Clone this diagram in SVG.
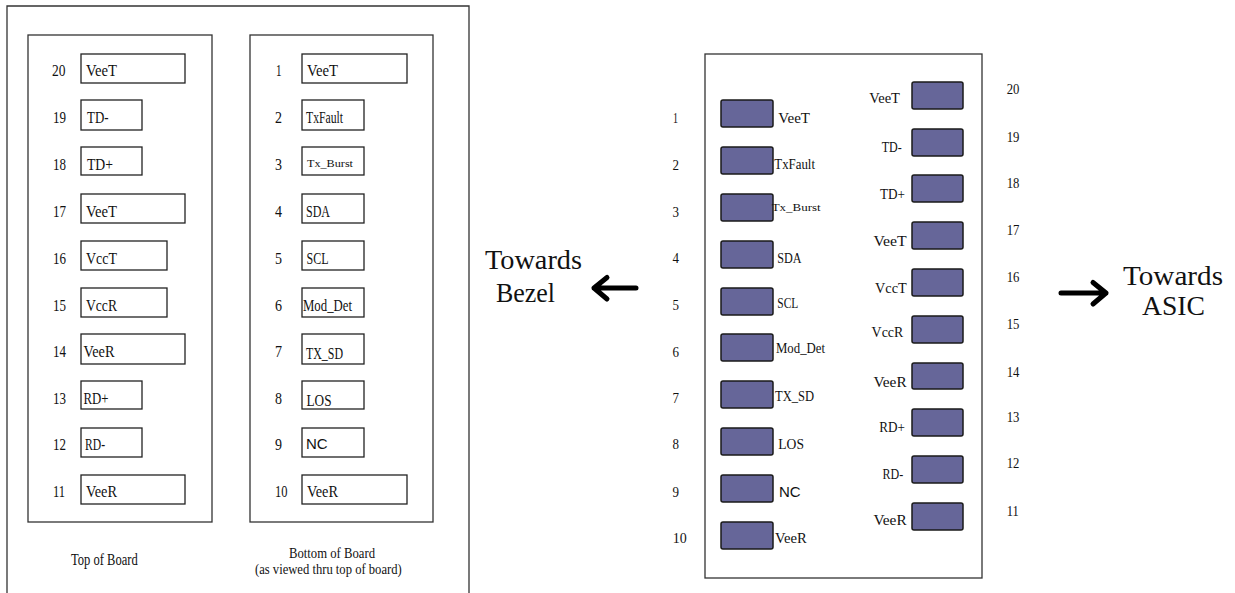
<svg xmlns="http://www.w3.org/2000/svg" width="1235" height="593" viewBox="0 0 1235 593">
<style>
text{font-family:"Liberation Serif","Times New Roman",serif;fill:#111}
.frame{fill:none;stroke:#333;stroke-width:1.3}
.pin{fill:#fff;stroke:#222;stroke-width:1.3}
.pad{fill:#666699;stroke:#1a1a1a;stroke-width:1.5}
.s{font-size:16px}
.cap{font-size:14px}
.m{font-size:15px}
.tiny{font-size:10px}
.sans{font-family:"Liberation Sans",Arial,sans-serif}
.big{font-size:28px}
.r{text-anchor:end}
.c{text-anchor:middle}
.arr{fill:none;stroke:#000;stroke-width:5;stroke-linecap:round;stroke-linejoin:round}
</style>
<rect width="1235" height="593" fill="#fff"/>

<!-- Left document -->
<g id="left-sheet">
<path class="frame" d="M7,600 V6 H469 V600"/>
<rect id="top-board" class="frame" x="28" y="35" width="184" height="487"/>
<rect id="bottom-board" class="frame" x="250" y="35" width="183" height="487"/>
</g>

<g id="top-pin20"><rect class="pin" x="81" y="54" width="104" height="29"/><text class="s" x="52" y="76" textLength="13.5" lengthAdjust="spacingAndGlyphs">20</text><text class="s" x="86" y="76" textLength="31" lengthAdjust="spacingAndGlyphs">VeeT</text></g>
<g id="top-pin19"><rect class="pin" x="81" y="100" width="61" height="30"/><text class="s" x="53" y="123" textLength="13" lengthAdjust="spacingAndGlyphs">19</text><text class="s" x="87" y="123" textLength="21.5" lengthAdjust="spacingAndGlyphs">TD-</text></g>
<g id="top-pin18"><rect class="pin" x="81" y="147" width="61" height="28"/><text class="s" x="53" y="170" textLength="13" lengthAdjust="spacingAndGlyphs">18</text><text class="s" x="87" y="170" textLength="26" lengthAdjust="spacingAndGlyphs">TD+</text></g>
<g id="top-pin17"><rect class="pin" x="81" y="194" width="104" height="29"/><text class="s" x="53" y="217" textLength="13" lengthAdjust="spacingAndGlyphs">17</text><text class="s" x="86" y="217" textLength="31" lengthAdjust="spacingAndGlyphs">VeeT</text></g>
<g id="top-pin16"><rect class="pin" x="81" y="241" width="86" height="29"/><text class="s" x="53" y="264" textLength="13" lengthAdjust="spacingAndGlyphs">16</text><text class="s" x="86" y="264" textLength="31" lengthAdjust="spacingAndGlyphs">VccT</text></g>
<g id="top-pin15"><rect class="pin" x="81" y="288" width="86" height="29"/><text class="s" x="53" y="310.5" textLength="13" lengthAdjust="spacingAndGlyphs">15</text><text class="s" x="86" y="310.5" textLength="31" lengthAdjust="spacingAndGlyphs">VccR</text></g>
<g id="top-pin14"><rect class="pin" x="81" y="334" width="104" height="30"/><text class="s" x="53" y="357" textLength="13" lengthAdjust="spacingAndGlyphs">14</text><text class="s" x="83.5" y="357" textLength="31" lengthAdjust="spacingAndGlyphs">VeeR</text></g>
<g id="top-pin13"><rect class="pin" x="81" y="381" width="61" height="28"/><text class="s" x="53" y="404" textLength="13" lengthAdjust="spacingAndGlyphs">13</text><text class="s" x="83.5" y="404" textLength="25" lengthAdjust="spacingAndGlyphs">RD+</text></g>
<g id="top-pin12"><rect class="pin" x="81" y="428" width="61" height="29"/><text class="s" x="53" y="450" textLength="13" lengthAdjust="spacingAndGlyphs">12</text><text class="s" x="85" y="450" textLength="20" lengthAdjust="spacingAndGlyphs">RD-</text></g>
<g id="top-pin11"><rect class="pin" x="81" y="475" width="104" height="29"/><text class="s" x="53" y="497" textLength="12" lengthAdjust="spacingAndGlyphs">11</text><text class="s" x="86" y="497" textLength="31" lengthAdjust="spacingAndGlyphs">VeeR</text></g>

<g id="bot-pin1"><rect class="pin" x="302" y="54" width="105" height="29"/><text class="s" x="276" y="76" textLength="5.5" lengthAdjust="spacingAndGlyphs">1</text><text class="s" x="307" y="76" textLength="31" lengthAdjust="spacingAndGlyphs">VeeT</text></g>
<g id="bot-pin2"><rect class="pin" x="302" y="100" width="62" height="30"/><text class="s" x="275" y="123" textLength="7" lengthAdjust="spacingAndGlyphs">2</text><text class="s" x="306" y="123" textLength="37" lengthAdjust="spacingAndGlyphs">TxFault</text></g>
<g id="bot-pin3"><rect class="pin" x="302" y="147" width="62" height="28"/><text class="s" x="275" y="170" textLength="7" lengthAdjust="spacingAndGlyphs">3</text><text class="tiny" x="307" y="167" textLength="46" lengthAdjust="spacingAndGlyphs">Tx_Burst</text></g>
<g id="bot-pin4"><rect class="pin" x="302" y="194" width="62" height="29"/><text class="s" x="275" y="217" textLength="7" lengthAdjust="spacingAndGlyphs">4</text><text class="s" x="306" y="217" textLength="24" lengthAdjust="spacingAndGlyphs">SDA</text></g>
<g id="bot-pin5"><rect class="pin" x="302" y="241" width="62" height="29"/><text class="s" x="275" y="264" textLength="7" lengthAdjust="spacingAndGlyphs">5</text><text class="s" x="306.5" y="263.5" textLength="22" lengthAdjust="spacingAndGlyphs">SCL</text></g>
<g id="bot-pin6"><rect class="pin" x="302" y="288" width="62" height="29"/><text class="s" x="275" y="310.5" textLength="7" lengthAdjust="spacingAndGlyphs">6</text><text class="s" x="303" y="310.5" textLength="49" lengthAdjust="spacingAndGlyphs">Mod_Det</text></g>
<g id="bot-pin7"><rect class="pin" x="302" y="334" width="62" height="30"/><text class="s" x="275" y="356.5" textLength="7" lengthAdjust="spacingAndGlyphs">7</text><text class="s" x="306" y="358.5" textLength="37" lengthAdjust="spacingAndGlyphs">TX_SD</text></g>
<g id="bot-pin8"><rect class="pin" x="302" y="381" width="62" height="28"/><text class="s" x="275" y="404" textLength="7" lengthAdjust="spacingAndGlyphs">8</text><text class="s" x="306.5" y="406" textLength="25" lengthAdjust="spacingAndGlyphs">LOS</text></g>
<g id="bot-pin9"><rect class="pin" x="302" y="428" width="62" height="29"/><text class="s" x="275" y="450" textLength="7" lengthAdjust="spacingAndGlyphs">9</text><text class="m sans" x="306" y="448.5" textLength="21.7" lengthAdjust="spacingAndGlyphs">NC</text></g>
<g id="bot-pin10"><rect class="pin" x="302" y="475" width="105" height="29"/><text class="s" x="275" y="497" textLength="12.5" lengthAdjust="spacingAndGlyphs">10</text><text class="s" x="307" y="497" textLength="31" lengthAdjust="spacingAndGlyphs">VeeR</text></g>

<g id="captions">
<text class="s" x="71" y="565" textLength="66.7" lengthAdjust="spacingAndGlyphs">Top of Board</text>
<text class="cap" x="289" y="558" textLength="86" lengthAdjust="spacingAndGlyphs">Bottom of Board</text>
<text class="cap" x="255" y="574" textLength="146.7" lengthAdjust="spacingAndGlyphs">(as viewed thru top of board)</text>
</g>

<!-- Direction labels -->
<g id="bezel-label">
<text class="big" x="485" y="269" textLength="97" lengthAdjust="spacingAndGlyphs">Towards</text>
<text class="big" x="496" y="302" textLength="59" lengthAdjust="spacingAndGlyphs">Bezel</text>
</g>
<g id="asic-label">
<text class="big" x="1123" y="285" textLength="100" lengthAdjust="spacingAndGlyphs">Towards</text>
<text class="big" x="1142" y="315" textLength="63" lengthAdjust="spacingAndGlyphs">ASIC</text>
</g>

<g id="connectors">
<path class="arr" d="M636,288 H594 M607,277.5 L594,288 L607,299"/>
<path class="arr" d="M1061,293 H1106 M1093,282.5 L1106,293 L1093,304"/>
</g>

<!-- Right connector view -->
<g id="module">
<rect class="frame" x="705" y="54" width="277" height="524"/>
</g>

<g id="pad1"><rect class="pad" x="721" y="100" width="52" height="27" rx="2"/><text class="m" x="673" y="123" textLength="5" lengthAdjust="spacingAndGlyphs">1</text><text class="m" x="778.3" y="123" textLength="31.7" lengthAdjust="spacingAndGlyphs">VeeT</text></g>
<g id="pad2"><rect class="pad" x="721" y="147" width="52" height="27" rx="2"/><text class="m" x="672.5" y="170" textLength="6.5" lengthAdjust="spacingAndGlyphs">2</text><text class="m" x="774.3" y="169" textLength="40.7" lengthAdjust="spacingAndGlyphs">TxFault</text></g>
<g id="pad3"><rect class="pad" x="721" y="194" width="52" height="27" rx="2"/><text class="m" x="672.5" y="217" textLength="6.5" lengthAdjust="spacingAndGlyphs">3</text><text class="tiny" x="771.7" y="210.5" textLength="49" lengthAdjust="spacingAndGlyphs">Tx_Burst</text></g>
<g id="pad4"><rect class="pad" x="721" y="241" width="52" height="27" rx="2"/><text class="m" x="672.5" y="263" textLength="6.5" lengthAdjust="spacingAndGlyphs">4</text><text class="m" x="777.3" y="263" textLength="24.3" lengthAdjust="spacingAndGlyphs">SDA</text></g>
<g id="pad5"><rect class="pad" x="721" y="288" width="52" height="27" rx="2"/><text class="m" x="672.5" y="310" textLength="6.5" lengthAdjust="spacingAndGlyphs">5</text><text class="m" x="777.3" y="308" textLength="21" lengthAdjust="spacingAndGlyphs">SCL</text></g>
<g id="pad6"><rect class="pad" x="721" y="334" width="52" height="27" rx="2"/><text class="m" x="672.5" y="357" textLength="6.5" lengthAdjust="spacingAndGlyphs">6</text><text class="m" x="776" y="353" textLength="49" lengthAdjust="spacingAndGlyphs">Mod_Det</text></g>
<g id="pad7"><rect class="pad" x="721" y="381" width="52" height="27" rx="2"/><text class="m" x="672.5" y="403" textLength="6.5" lengthAdjust="spacingAndGlyphs">7</text><text class="m" x="775" y="401" textLength="39" lengthAdjust="spacingAndGlyphs">TX_SD</text></g>
<g id="pad8"><rect class="pad" x="721" y="428" width="52" height="27" rx="2"/><text class="m" x="672.5" y="449" textLength="6.5" lengthAdjust="spacingAndGlyphs">8</text><text class="m" x="778.3" y="449" textLength="25.7" lengthAdjust="spacingAndGlyphs">LOS</text></g>
<g id="pad9"><rect class="pad" x="721" y="475" width="52" height="27" rx="2"/><text class="m" x="672.5" y="497" textLength="6.5" lengthAdjust="spacingAndGlyphs">9</text><text class="m sans" x="779" y="497" textLength="21.7" lengthAdjust="spacingAndGlyphs">NC</text></g>
<g id="pad10"><rect class="pad" x="721" y="522" width="52" height="27" rx="2"/><text class="m" x="672.7" y="543" textLength="14" lengthAdjust="spacingAndGlyphs">10</text><text class="m" x="775" y="543" textLength="31.7" lengthAdjust="spacingAndGlyphs">VeeR</text></g>

<g id="pad20"><rect class="pad" x="912" y="82" width="51" height="27" rx="2"/><text class="m" x="1006.7" y="94" textLength="12.7" lengthAdjust="spacingAndGlyphs">20</text><text class="m r" x="900" y="103" textLength="30.7" lengthAdjust="spacingAndGlyphs">VeeT</text></g>
<g id="pad19"><rect class="pad" x="912" y="129" width="51" height="27" rx="2"/><text class="m" x="1006.7" y="142" textLength="12.7" lengthAdjust="spacingAndGlyphs">19</text><text class="m r" x="901.7" y="152" textLength="20" lengthAdjust="spacingAndGlyphs">TD-</text></g>
<g id="pad18"><rect class="pad" x="912" y="175" width="51" height="27" rx="2"/><text class="m" x="1006.7" y="188" textLength="12.7" lengthAdjust="spacingAndGlyphs">18</text><text class="m r" x="905" y="199" textLength="25" lengthAdjust="spacingAndGlyphs">TD+</text></g>
<g id="pad17"><rect class="pad" x="912" y="222" width="51" height="27" rx="2"/><text class="m" x="1006.7" y="235" textLength="12.7" lengthAdjust="spacingAndGlyphs">17</text><text class="m r" x="906.7" y="246" textLength="33.3" lengthAdjust="spacingAndGlyphs">VeeT</text></g>
<g id="pad16"><rect class="pad" x="912" y="269" width="51" height="27" rx="2"/><text class="m" x="1006.7" y="282" textLength="12.7" lengthAdjust="spacingAndGlyphs">16</text><text class="m r" x="906.7" y="293" textLength="31.7" lengthAdjust="spacingAndGlyphs">VccT</text></g>
<g id="pad15"><rect class="pad" x="912" y="316" width="51" height="27" rx="2"/><text class="m" x="1006.7" y="329" textLength="12.7" lengthAdjust="spacingAndGlyphs">15</text><text class="m r" x="903.3" y="337" textLength="31.7" lengthAdjust="spacingAndGlyphs">VccR</text></g>
<g id="pad14"><rect class="pad" x="912" y="363" width="51" height="26" rx="2"/><text class="m" x="1006.7" y="377" textLength="12.7" lengthAdjust="spacingAndGlyphs">14</text><text class="m r" x="906.7" y="387" textLength="33.3" lengthAdjust="spacingAndGlyphs">VeeR</text></g>
<g id="pad13"><rect class="pad" x="912" y="409" width="51" height="27" rx="2"/><text class="m" x="1006.7" y="422" textLength="12.7" lengthAdjust="spacingAndGlyphs">13</text><text class="m r" x="905" y="432" textLength="25.7" lengthAdjust="spacingAndGlyphs">RD+</text></g>
<g id="pad12"><rect class="pad" x="912" y="456" width="51" height="27" rx="2"/><text class="m" x="1006.7" y="468" textLength="12.7" lengthAdjust="spacingAndGlyphs">12</text><text class="m r" x="903.3" y="479" textLength="20.7" lengthAdjust="spacingAndGlyphs">RD-</text></g>
<g id="pad11"><rect class="pad" x="912" y="503" width="51" height="27" rx="2"/><text class="m" x="1006.7" y="516" textLength="12" lengthAdjust="spacingAndGlyphs">11</text><text class="m r" x="906.7" y="525" textLength="33.3" lengthAdjust="spacingAndGlyphs">VeeR</text></g>
</svg>
